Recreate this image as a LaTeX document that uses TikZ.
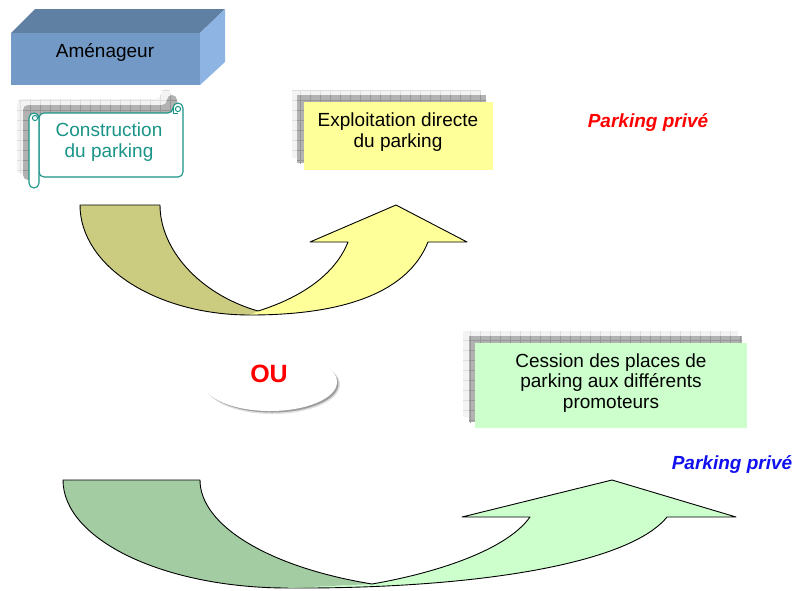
\documentclass[tikz,border=0pt]{standalone}
\usepackage{fontspec}
\setmainfont{Liberation Sans}
\usetikzlibrary{patterns.meta}
\definecolor{cubefront}{RGB}{115,153,198}
\definecolor{cubetop}{RGB}{95,127,163}
\definecolor{cuberight}{RGB}{141,180,226}
\definecolor{tealc}{RGB}{25,148,135}
\definecolor{ylight}{RGB}{255,255,153}
\definecolor{ydark}{RGB}{204,204,128}
\definecolor{glight}{RGB}{204,255,204}
\definecolor{gdark}{RGB}{163,204,163}
\definecolor{shlight}{RGB}{243,243,243}
\definecolor{shgrid}{RGB}{222,222,222}
\definecolor{shdark}{RGB}{178,178,178}
\definecolor{shdarkgrid}{RGB}{150,150,150}
\definecolor{bluetxt}{RGB}{16,16,240}
\begin{document}
\begin{tikzpicture}[x=1pt,y=-1pt,line join=round,
  arrowline/.style={draw=black,line width=0.9pt},
  txt/.style={font=\fontsize{19}{20.5}\selectfont,align=center,inner sep=0pt},
  lightsh/.style={preaction={fill=shlight},pattern={Hatch[angle=0,distance=10pt,line width=0.5pt]},pattern color=shgrid},
  darksh/.style={preaction={fill=shdark},pattern={Hatch[angle=0,distance=10pt,line width=0.6pt]},pattern color=shdarkgrid},
  scrollline/.style={draw=tealc,line width=1.1pt,fill=white},
  privetxt/.style={font=\fontsize{19}{21}\selectfont\bfseries\itshape,inner sep=0pt}
]
\useasboundingbox (0,0) rectangle (794,590);

% ---------- Amenageur cube ----------
\fill[cubetop] (11,33) -- (35,9) -- (225,9) -- (200,33) -- cycle;
\fill[cuberight] (200,33) -- (225,9) -- (225,62) -- (200,85) -- cycle;
\fill[cubefront] (11,33) rectangle (200,85);
\node[txt] (amen) at (105,52) {Aménageur};

% ---------- Construction scroll ----------
\def\scrollsil{[rounded corners=5pt] (29,113) -- (29,188) -- (39,188) -- (39,177) -- (183,177) -- (183,103) -- (173,103) -- (173,113) -- cycle}
\path[lightsh,shift={(-12,-14)}] \scrollsil;
\path[darksh,shift={(-6,-8)}] \scrollsil;
\filldraw[scrollline,rounded corners=5pt] (39,113) -- (173,113) -- (173,103) -- (183,103) -- (183,177) -- (39,177) -- cycle;
\draw[tealc,line width=1pt] (178,109) circle (2.6);
\draw[tealc,line width=1pt] (173,108) -- (173,113) -- (178,113);
\filldraw[scrollline,rounded corners=5pt] (29,113) rectangle (39,188);
\draw[tealc,line width=1pt] (35,118) circle (2.6);
\node[txt,text=tealc] (constr) at (109,142) {Construction\\du parking};

% ---------- Exploitation box ----------
\path[lightsh] (292,90) rectangle (481,158);
\path[darksh] (297,95) rectangle (486,163);
\fill[ylight] (304,102) rectangle (493,170);
\node[txt] (expl) at (398,132) {Exploitation directe\\du parking};

\node[privetxt,text=red] (priv1) at (648,122) {Parking privé};

% ---------- top arrow ----------
\fill[ylight] (250,315) .. controls (345,315) and (408,292) .. (428,242) -- (467,242) -- (396,205) -- (310,242) -- (348,242) .. controls (335,275) and (300,298) .. (258,311) -- cycle;
\draw[arrowline] (250,315) .. controls (345,315) and (408,292) .. (428,242) -- (467,242) -- (396,205) -- (310,242) -- (348,242) .. controls (335,275) and (300,298) .. (258,311);
\fill[ydark] (80,205) -- (160,205) .. controls (160,249) and (199,294) .. (258,311) -- (250,315) .. controls (156,315) and (80,266) .. (80,205) -- cycle;
\draw[arrowline] (258,311) .. controls (199,294) and (160,249) .. (160,205) -- (80,205) .. controls (80,266) and (156,315) .. (250,315);

% ---------- OU ellipse ----------
\fill[black!12] (272.5,384.5) ellipse [x radius=67.5pt,y radius=29.5pt];
\fill[black!38] (272,384) ellipse [x radius=66.5pt,y radius=28.5pt];
\fill[white] (270,382) ellipse [x radius=67pt,y radius=29pt];
\node[font=\fontsize{25}{27}\selectfont\bfseries,text=red,inner sep=0pt] (ou) at (269,374) {OU};

% ---------- Cession box ----------
\path[lightsh] (463,331) rectangle (738,417);
\path[darksh] (469,336) rectangle (742,422);
\fill[glight] (475,343) rectangle (747,428);
\node[txt] (cess) at (611,383) {Cession des places de\\parking aux différents\\promoteurs};

\node[privetxt,text=bluetxt] (priv2) at (732,464) {Parking privé};

% ---------- bottom arrow ----------
\fill[glight] (288,588) .. controls (470,589) and (628,565) .. (667,517) -- (736,517) -- (612,480) -- (462,517) -- (530,517) .. controls (505,552) and (430,574) .. (372,584) -- cycle;
\draw[arrowline] (288,588) .. controls (470,589) and (628,565) .. (667,517) -- (736,517) -- (612,480) -- (462,517) -- (530,517) .. controls (505,552) and (430,574) .. (372,584);
\fill[gdark] (63,480) -- (200,480) .. controls (200,525) and (268,567) .. (372,584) -- (288,588) .. controls (163.8,588) and (63,539.6) .. (63,480) -- cycle;
\draw[arrowline] (372,584) .. controls (268,567) and (200,525) .. (200,480) -- (63,480) .. controls (63,539.6) and (163.8,588) .. (288,588);
\end{tikzpicture}
\end{document}
